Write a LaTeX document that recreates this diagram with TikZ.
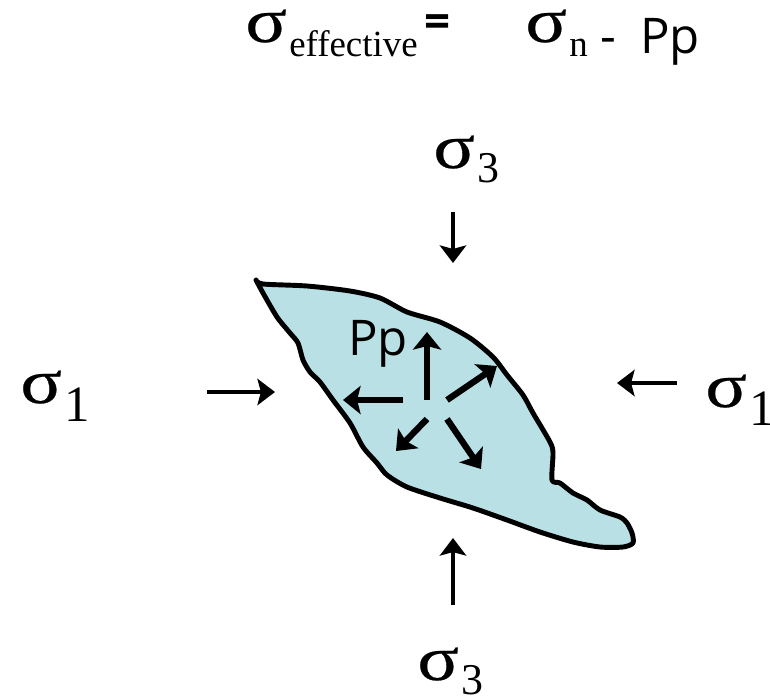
\documentclass[tikz,border=0pt]{standalone}
\usepackage{fontspec,graphicx}
\setmainfont{Liberation Serif}
\newfontfamily\sigfont[FakeBold=0.35]{Liberation Serif}
\newfontfamily\handfont{Open Sans}
\usetikzlibrary{arrows.meta}
\definecolor{poreB}{RGB}{185,224,228}

\newcommand\sgm[3]{\makebox[25pt][l]{\fontsize{36}{36}\sigfont\scalebox{1.22}[1]{σ}}\raisebox{-#3}{\fontsize{#2}{#2}\selectfont #1}}

\begin{document}
\begin{tikzpicture}[x=0.02cm,y=-0.02cm,
  lbl/.style={inner sep=0pt,anchor=base west},
  hand/.style={lbl,font={\handfont\fontsize{#1}{#1}\selectfont}},
  load/.style={line width=2.3pt,-{Stealth[length=10pt,width=15pt,inset=2pt]}},
  push/.style={line width=3.6pt,-{Stealth[length=10pt,width=16pt,inset=2pt]}}]
\useasboundingbox (0,0) rectangle (770,697);
% sigma_eff = sigma_n - Pp
\node[lbl] (eff) at (245,42) {\sgm{effective}{21pt}{8.5pt}};
\node[lbl,font={\handfont\bfseries\fontsize{26pt}{26pt}\selectfont}] (eq) at (424,37) {=};
\node[lbl] (sn) at (525,42) {\sgm{n}{21pt}{8.5pt}};
\node[hand=28pt] (mn) at (600,53) {-};
\node[hand=28pt] (pp) at (640,53) {Pp};
% pore body
\draw[line width=2.8pt,fill=poreB,line join=round] plot[smooth,tension=0.45] coordinates{
  (256,280) (263,284) (307,286) (350,291) (380,298) (407,312) (440,322)
  (470,338) (493,357) (507,375) (523,395) (533,413) (550,442) (553,453)
  (552,480) (560,483) (573,493) (587,500) (600,510) (620,517) (627,523)
  (632,533) (633,543) (623,547) (600,547) (573,542) (540,532) (507,520)
  (473,508) (440,498) (407,487) (387,475) (377,463) (363,447) (350,423)
  (333,400) (320,382) (310,372) (303,360) (298,343) (290,333) (277,317)
  (263,293) (256,280)} -- cycle;
\node[hand=28pt] (ppin) at (348,355) {Pp};
\draw[push] (427,400) -- (427,332);
\draw[push] (403,400) -- (343,400);
\draw[push] (447,400) -- (497,366);
\draw[push] (427,419) -- (396,451);
\draw[push] (447,419) -- (481,469);
% far-field stresses
\node[lbl] (s3t) at (433,168) {\sgm{3}{25pt}{8.5pt}};
\node[lbl] (s3b) at (417,680) {\sgm{3}{25pt}{8.5pt}};
\node[lbl] (s1l) at (20,403) {\sgm{1}{29pt}{10.8pt}};
\node[lbl] (s1r) at (705,407) {\sgm{1}{29pt}{10.8pt}};
\draw[load] (453,212) -- (453,263);
\draw[load] (453,605) -- (453,538);
\draw[load] (207,392) -- (275,392);
\draw[load] (677,383) -- (617,383);
\end{tikzpicture}
\end{document}
